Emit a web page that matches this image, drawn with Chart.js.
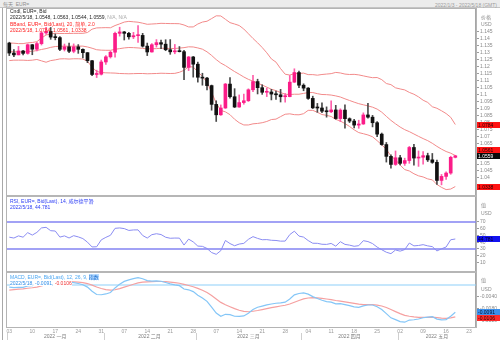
<!DOCTYPE html>
<html>
<head>
<meta charset="utf-8">
<script src="https://cdn.jsdelivr.net/npm/chart.js@4.4.1/dist/chart.umd.min.js"></script>
<style>
  html, body { margin: 0; padding: 0; background: #fff; }
  #wrap { position: relative; width: 500px; height: 340px; overflow: hidden;
          font-family: "Liberation Sans", "Noto Sans CJK SC", sans-serif; }
  #topbar { position: absolute; left: 0; top: 0; width: 500px; height: 7px;
            background: #ececec; border-bottom: 1px solid #c4c4c4; }
  .t { position: absolute; white-space: nowrap; font-size: 5px; line-height: 6px; }
  .vline { position: absolute; top: 8px; width: 1px; height: 332px; background: #a8a8a8; }
  canvas { position: absolute; left: 0; top: 0; }
</style>
</head>
<body>
<div id="wrap">
  <div id="topbar"></div>
  <div class="t" style="left:3px;top:1px;color:#8c8c8c">每天&nbsp;&nbsp;EUR=</div>
  <div class="t" id="period" style="right:3px;top:2px;color:#9c9c9c"></div>
  <div class="vline" style="left:2px"></div>
  <canvas id="chart" width="500" height="340"></canvas>

  <div class="t" id="cndlHead" style="left:10px;top:8px;color:#222">Cndl, EUR=, Bid</div>
  <div class="t" id="cndlVal" style="left:10px;top:14px;color:#222"></div>
  <div class="t" id="bbHead" style="left:10px;top:21px;color:#f22">BBand, EUR=, Bid(Last), 20, 简单, 2.0</div>
  <div class="t" id="bbVal" style="left:10px;top:27px;color:#f22"></div>

  <div class="t" id="rsiHead" style="left:10px;top:198px;color:#2b3cf5">RSI, EUR=, Bid(Last), 14, 威尔德平滑</div>
  <div class="t" id="rsiVal" style="left:10px;top:204px;color:#2b3cf5"></div>

  <div class="t" style="left:10px;top:274px;color:#4aa6f2;background:#fff">MACD, EUR=, Bid(Last), 12, 26, 9, <span style="background:#b9dcff;color:#1a6fd0">指数</span></div>
  <div class="t" id="macdVal" style="left:10px;top:280px;background:#fff"></div>

  <div class="t" style="left:481px;top:14px;color:#8c8c8c">价格</div>
  <div class="t" style="left:481px;top:21px;color:#8c8c8c">USD</div>
  <div class="t" style="left:481px;top:202px;color:#8c8c8c">值</div>
  <div class="t" style="left:481px;top:210px;color:#8c8c8c">USD</div>
  <div class="t" style="left:481px;top:277px;color:#8c8c8c">值</div>
  <div class="t" style="left:481px;top:286px;color:#8c8c8c">USD</div>
</div>

<script>
// Trading sessions per month (2022), including the blank sessions after the last bar
const janDays = [3,4,5,6,7,10,11,12,13,14,17,18,19,20,21,24,25,26,27,28,31];
const febDays = [1,2,3,4,7,8,9,10,11,14,15,16,17,18,21,22,23,24,25,28];
const marDays = [1,2,3,4,7,8,9,10,11,14,15,16,17,18,21,22,23,24,25,28,29,30,31];
const aprDays = [1,4,5,6,7,8,11,12,13,14,15,18,19,20,21,22,25,26,27,28,29];
const mayDays = [2,3,4,5,6,9,10,11,12,13,16,17,18,19,20,23,24];
const monthNames = ['2022 一月', '2022 二月', '2022 三月', '2022 四月', '2022 五月'];

// EUR= daily bid candles
const openPx = [1.1370,1.1298,1.1285,1.1313,1.1296,1.1358,1.1326,1.1366,1.1443,1.1454,
  1.1413,1.1409,1.1325,1.1343,1.1311,1.1343,1.1325,1.1301,1.1243,1.1144,
  1.1146,1.1234,1.1271,1.1304,1.1440,1.1450,1.1440,1.1415,1.1423,1.1425,
  1.1348,1.1306,1.1358,1.1373,1.1362,1.1322,1.1307,1.1309,1.1308,1.1195,
  1.1270,1.1218,1.1124,1.1118,1.1064,1.0929,1.0854,1.0903,1.1075,1.0984,
  1.0910,1.0942,1.0955,1.1034,1.1093,1.1049,1.1016,1.1018,1.1003,1.0998,
  1.0984,1.0985,1.1089,1.1158,1.1067,1.1046,1.0972,1.0904,1.0903,1.0880,
  1.0876,1.0889,1.0827,1.0888,1.0826,1.0809,1.0780,1.0788,1.0853,1.0837,
  1.0797,1.0715,1.0640,1.0555,1.0497,1.0545,1.0505,1.0525,1.0619,1.0543,
  1.0549,1.0560,1.0530,1.0512,1.0382,1.0411,1.0435,1.0548];
const highPx = [1.1376,1.1323,1.1346,1.1318,1.1364,1.1360,1.1375,1.1452,1.1483,1.1482,
  1.1436,1.1416,1.1363,1.1370,1.1364,1.1359,1.1329,1.1302,1.1245,1.1175,
  1.1248,1.1280,1.1313,1.1449,1.1484,1.1454,1.1448,1.1447,1.1495,1.1440,
  1.1370,1.1367,1.1395,1.1391,1.1394,1.1395,1.1360,1.1345,1.1317,1.1274,
  1.1274,1.1233,1.1153,1.1124,1.1068,1.0955,1.0925,1.1080,1.1121,1.1042,
  1.0997,1.1003,1.1041,1.1138,1.1110,1.1070,1.1046,1.1037,1.1025,1.1037,
  1.1007,1.1137,1.1185,1.1169,1.1077,1.1050,1.0988,1.0936,1.0940,1.0911,
  1.0954,1.0922,1.0897,1.0925,1.0832,1.0822,1.0815,1.0868,1.0936,1.0850,
  1.0805,1.0723,1.0655,1.0566,1.0594,1.0562,1.0542,1.0627,1.0641,1.0594,
  1.0590,1.0578,1.0576,1.0528,1.0425,1.0444,1.0556,1.0563];
const lowPx = [1.1280,1.1272,1.1285,1.1285,1.1290,1.1286,1.1313,1.1356,1.1433,1.1397,
  1.1393,1.1316,1.1313,1.1301,1.1300,1.1296,1.1263,1.1229,1.1136,1.1122,
  1.1140,1.1217,1.1262,1.1268,1.1420,1.1392,1.1398,1.1402,1.1374,1.1341,
  1.1280,1.1305,1.1341,1.1329,1.1315,1.1289,1.1293,1.1306,1.1106,1.1172,
  1.1125,1.1089,1.1067,1.1033,1.0887,1.0806,1.0850,1.0900,1.0974,1.0906,
  1.0908,1.0930,1.0950,1.1020,1.1004,1.1001,1.0985,1.0961,1.0964,1.0946,
  1.0945,1.0983,1.1086,1.1050,1.1027,1.0965,1.0899,1.0872,1.0869,1.0837,
  1.0869,1.0822,1.0805,1.0758,1.0798,1.0760,1.0757,1.0785,1.0830,1.0767,
  1.0697,1.0635,1.0514,1.0470,1.0490,1.0493,1.0490,1.0505,1.0492,1.0483,
  1.0499,1.0518,1.0505,1.0354,1.0350,1.0389,1.0426,1.0544];
const closePx = [1.1298,1.1285,1.1313,1.1296,1.1358,1.1326,1.1366,1.1443,1.1454,1.1413,
  1.1409,1.1325,1.1343,1.1311,1.1343,1.1325,1.1301,1.1243,1.1144,1.1146,
  1.1234,1.1271,1.1304,1.1440,1.1450,1.1440,1.1415,1.1423,1.1425,1.1348,
  1.1306,1.1358,1.1373,1.1362,1.1322,1.1307,1.1309,1.1308,1.1195,1.1270,
  1.1218,1.1124,1.1118,1.1064,1.0929,1.0854,1.0903,1.1075,1.0984,1.0910,
  1.0942,1.0955,1.1034,1.1093,1.1049,1.1016,1.1018,1.1003,1.0998,1.0984,
  1.0985,1.1089,1.1158,1.1067,1.1046,1.0972,1.0904,1.0903,1.0880,1.0876,
  1.0889,1.0827,1.0888,1.0826,1.0809,1.0780,1.0788,1.0853,1.0837,1.0797,
  1.0715,1.0640,1.0555,1.0497,1.0545,1.0505,1.0525,1.0619,1.0543,1.0549,
  1.0560,1.0530,1.0512,1.0382,1.0411,1.0435,1.0548,1.0559];

// Bollinger band (20, 2.0)
const bbUpper = [1.1370,1.1369,1.1366,1.1366,1.1372,1.1374,1.1380,1.1406,1.1428,1.1434,
  1.1441,1.1439,1.1439,1.1439,1.1440,1.1440,1.1440,1.1446,1.1470,1.1479,
  1.1480,1.1481,1.1480,1.1496,1.1508,1.1521,1.1526,1.1523,1.1520,1.1513,
  1.1505,1.1507,1.1509,1.1512,1.1511,1.1510,1.1510,1.1509,1.1500,1.1486,
  1.1486,1.1507,1.1521,1.1527,1.1546,1.1566,1.1565,1.1541,1.1517,1.1507,
  1.1496,1.1471,1.1437,1.1403,1.1372,1.1338,1.1300,1.1256,1.1233,1.1186,
  1.1146,1.1140,1.1150,1.1151,1.1154,1.1143,1.1143,1.1139,1.1144,1.1147,
  1.1150,1.1159,1.1155,1.1147,1.1144,1.1145,1.1141,1.1134,1.1127,1.1121,
  1.1122,1.1107,1.1079,1.1071,1.1048,1.1040,1.1033,1.1015,1.1002,1.0983,
  1.0959,1.0943,1.0912,1.0901,1.0883,1.0863,1.0836,1.0784];
const bbMiddle = [1.1307,1.1308,1.1306,1.1307,1.1309,1.1311,1.1316,1.1324,1.1330,1.1339,
  1.1345,1.1347,1.1348,1.1347,1.1348,1.1348,1.1348,1.1342,1.1333,1.1322,
  1.1319,1.1318,1.1318,1.1325,1.1330,1.1335,1.1338,1.1337,1.1335,1.1332,
  1.1327,1.1329,1.1330,1.1333,1.1332,1.1331,1.1331,1.1334,1.1337,1.1343,
  1.1342,1.1335,1.1326,1.1307,1.1281,1.1251,1.1226,1.1208,1.1186,1.1165,
  1.1146,1.1126,1.1109,1.1096,1.1082,1.1068,1.1053,1.1038,1.1028,1.1014,
  1.1002,1.1000,1.1002,1.1002,1.1008,1.1014,1.1014,1.1006,1.1000,1.0999,
  1.0996,1.0990,1.0982,1.0969,1.0957,1.0945,1.0934,1.0926,1.0918,1.0909,
  1.0895,1.0873,1.0843,1.0814,1.0789,1.0766,1.0747,1.0733,1.0716,1.0699,
  1.0683,1.0668,1.0649,1.0627,1.0607,1.0590,1.0578,1.0561];
const bbLower = [1.1244,1.1247,1.1247,1.1247,1.1245,1.1247,1.1252,1.1242,1.1232,1.1244,
  1.1249,1.1256,1.1257,1.1255,1.1257,1.1257,1.1255,1.1239,1.1197,1.1166,
  1.1158,1.1156,1.1155,1.1154,1.1151,1.1150,1.1149,1.1150,1.1151,1.1151,
  1.1149,1.1150,1.1151,1.1153,1.1152,1.1151,1.1152,1.1160,1.1174,1.1200,
  1.1198,1.1163,1.1130,1.1087,1.1016,1.0937,1.0886,1.0875,1.0855,1.0822,
  1.0797,1.0781,1.0781,1.0789,1.0792,1.0797,1.0806,1.0820,1.0823,1.0841,
  1.0858,1.0861,1.0855,1.0854,1.0862,1.0886,1.0886,1.0872,1.0856,1.0850,
  1.0842,1.0821,1.0809,1.0791,1.0770,1.0746,1.0726,1.0718,1.0709,1.0696,
  1.0668,1.0638,1.0606,1.0558,1.0530,1.0492,1.0460,1.0450,1.0430,1.0415,
  1.0407,1.0393,1.0386,1.0353,1.0332,1.0316,1.0320,1.0338];

// RSI (14, Wilder smoothing)
const rsi14 = [47.5,46.2,49.4,47.5,54.2,50.6,54.6,61.2,62.1,57.1,
  56.6,47.6,49.4,46.3,49.7,47.9,45.4,40.1,33.0,33.3,
  43.5,47.2,50.3,60.6,61.2,60.2,57.5,58.2,58.3,50.0,
  46.2,51.2,52.6,51.4,47.4,45.9,46.2,46.1,35.8,44.6,
  40.5,34.3,33.9,30.8,24.7,22.1,27.5,42.6,38.0,34.8,
  37.3,38.3,44.3,48.3,45.7,43.7,43.9,42.9,42.6,41.6,
  41.7,51.3,56.4,49.1,47.6,42.5,38.5,38.4,37.0,36.8,
  38.2,34.2,40.8,36.8,35.7,34.0,34.9,42.3,41.0,38.0,
  32.8,28.9,25.2,23.1,28.5,26.8,29.1,38.8,34.6,35.2,
  36.4,34.6,33.5,27.1,30.3,32.9,43.7,44.781];

// MACD (12, 26, 9) and its signal line
const macdLine = [-0.00069,-0.00086,-0.00076,-0.00080,-0.00034,-0.00022,0.00019,0.00112,0.00193,0.00221,
  0.00238,0.00181,0.00149,0.00096,0.00080,0.00051,0.00009,-0.00070,-0.00210,-0.00316,
  -0.00325,-0.00299,-0.00249,-0.00098,0.00029,0.00120,0.00170,0.00214,0.00247,0.00209,
  0.00144,0.00132,0.00134,0.00124,0.00084,0.00039,0.00005,-0.00022,-0.00134,-0.00160,
  -0.00220,-0.00339,-0.00433,-0.00546,-0.00735,-0.00935,-0.01042,-0.00976,-0.00987,-0.01042,
  -0.01049,-0.01031,-0.00943,-0.00816,-0.00742,-0.00702,-0.00661,-0.00634,-0.00609,-0.00594,
  -0.00574,-0.00469,-0.00327,-0.00284,-0.00264,-0.00305,-0.00387,-0.00448,-0.00509,-0.00554,
  -0.00573,-0.00630,-0.00620,-0.00654,-0.00686,-0.00727,-0.00745,-0.00698,-0.00666,-0.00666,
  -0.00723,-0.00820,-0.00954,-0.01094,-0.01154,-0.01219,-0.01240,-0.01168,-0.01158,-0.01133,
  -0.01091,-0.01070,-0.01056,-0.01136,-0.01163,-0.01152,-0.01040,-0.0091];
const macdSignal = [-0.00174,-0.00156,-0.00140,-0.00128,-0.00109,-0.00092,-0.00070,-0.00033,0.00012,0.00054,
  0.00091,0.00109,0.00117,0.00113,0.00106,0.00095,0.00078,0.00048,-0.00003,-0.00066,
  -0.00118,-0.00154,-0.00173,-0.00158,-0.00121,-0.00073,-0.00024,0.00024,0.00068,0.00097,
  0.00106,0.00111,0.00116,0.00117,0.00111,0.00096,0.00078,0.00058,0.00020,-0.00016,
  -0.00057,-0.00113,-0.00177,-0.00251,-0.00348,-0.00465,-0.00580,-0.00660,-0.00725,-0.00789,
  -0.00841,-0.00879,-0.00892,-0.00876,-0.00850,-0.00820,-0.00788,-0.00757,-0.00728,-0.00701,
  -0.00676,-0.00634,-0.00573,-0.00515,-0.00465,-0.00433,-0.00424,-0.00428,-0.00445,-0.00466,
  -0.00488,-0.00516,-0.00537,-0.00560,-0.00585,-0.00614,-0.00640,-0.00652,-0.00655,-0.00657,
  -0.00670,-0.00700,-0.00751,-0.00819,-0.00886,-0.00953,-0.01010,-0.01042,-0.01065,-0.01079,
  -0.01081,-0.01079,-0.01074,-0.01087,-0.01102,-0.01112,-0.01098,-0.0106];

// Axis ticks and reference levels
const priceTicks = [1.04,1.045,1.05,1.055,1.06,1.065,1.07,1.075,1.08,1.085,1.09,1.095,
  1.1,1.105,1.11,1.115,1.12,1.125,1.13,1.135,1.14,1.145];
const rsiTicks = [10,20,30,40,50,60,70];
const macdTicks = [-0.004,-0.008,-0.012];
const rsiBands = [70, 30];
const macdZero = [0];

// ---------------------------------------------------------------------------
const monthSessions = [janDays, febDays, marDays, aprDays, mayDays];
const sessions = monthSessions.flatMap((days, mi) => days.map(d => `2022/${mi + 1}/${d}`));
const lastIdx = closePx.length - 1;
const lastDate = sessions[lastIdx];

const FONT = '"Liberation Sans", "Noto Sans CJK SC", sans-serif';
const UP = '#fb1c88', DOWN = '#111111';
const isUp = closePx.map((c, i) => c >= openPx[i]);

const wicks = closePx.map((c, i) => [lowPx[i], highPx[i]]);
const bodies = closePx.map((c, i) => [openPx[i], c]);

// Header texts
document.getElementById('period').textContent = `${sessions[0]} - ${lastDate} (GMT)`;
document.getElementById('cndlVal').innerHTML =
  `${lastDate}, ${openPx[lastIdx].toFixed(4)}, ${highPx[lastIdx].toFixed(4)}, ${lowPx[lastIdx].toFixed(4)}, ${closePx[lastIdx].toFixed(4)}, <span style="color:#aaa">N/A, N/A</span>`;
document.getElementById('bbVal').textContent =
  `${lastDate}, ${bbUpper[lastIdx].toFixed(4)}, ${bbMiddle[lastIdx].toFixed(4)}, ${bbLower[lastIdx].toFixed(4)}`;
document.getElementById('rsiVal').textContent = `${lastDate}, ${rsi14[lastIdx]}`;
document.getElementById('macdVal').innerHTML =
  `<span style="color:#2f8ee8">${lastDate}, ${macdLine[lastIdx].toFixed(4)},</span> <span style="color:#f03030">${macdSignal[lastIdx].toFixed(4)}</span>`;

// Last-value tags on the right axes (listed by priority)
const valueTags = [
  { axis: 'yPrice', value: closePx[lastIdx], bg: '#0a0a0a', fg: '#ffffff' , digits: 4 },
  { axis: 'yPrice', value: bbUpper[lastIdx], bg: '#ff1212', fg: '#2a0000', digits: 4 },
  { axis: 'yPrice', value: bbMiddle[lastIdx], bg: '#ff1212', fg: '#2a0000', digits: 4 },
  { axis: 'yPrice', value: bbLower[lastIdx], bg: '#ff1212', fg: '#2a0000', digits: 4 },
  { axis: 'yRsi', value: rsi14[lastIdx], bg: '#1212f0', fg: '#000022', digits: 3 },
  { axis: 'yMacd', value: macdLine[lastIdx], bg: '#3b8fe9', fg: '#001030', digits: 4 },
  { axis: 'yMacd', value: macdSignal[lastIdx], bg: '#ff2a2a', fg: '#2a0000', digits: 4 }
];

const paneDecor = {
  id: 'paneDecor',
  beforeDatasetsDraw(chart) {
    const { ctx, chartArea: a, scales: s } = chart;
    ctx.save();
    const hline = (y, color, w) => {
      ctx.strokeStyle = color; ctx.lineWidth = w;
      ctx.beginPath(); ctx.moveTo(a.left, y); ctx.lineTo(a.right, y); ctx.stroke();
    };
    rsiBands.forEach(v => hline(s.yRsi.getPixelForValue(v), '#8383f2', 1.4));
    macdZero.forEach(v => hline(s.yMacd.getPixelForValue(v), '#8ecff9', 1.2));
    ctx.restore();
  },
  afterDraw(chart) {
    const { ctx, chartArea: a, scales: s } = chart;
    ctx.save();
    // pane frame and separators
    ctx.strokeStyle = '#b4b4b4'; ctx.lineWidth = 1;
    ctx.strokeRect(a.left - 0.5, a.top - 0.5, a.right - a.left + 1, a.bottom - a.top + 1);
    ctx.fillStyle = '#b6b6b6';
    [s.yRsi.top, s.yMacd.top].forEach(y => ctx.fillRect(a.left - 1, Math.round(y) - 1, a.right - a.left + 1, 2));

    // month row under the day labels
    const x = s.x;
    ctx.font = `5px ${FONT}`;
    ctx.textAlign = 'center'; ctx.textBaseline = 'middle';
    let start = 0;
    ctx.strokeStyle = '#cfcfcf'; ctx.lineWidth = 1;
    monthSessions.forEach((days, mi) => {
      const first = start, last = start + days.length - 1;
      start += days.length;
      const cx = (x.getPixelForValue(first) + x.getPixelForValue(last)) / 2;
      ctx.fillStyle = '#7c7c7c';
      ctx.fillText(monthNames[mi], cx, 337);
      const bx = first === 0 ? a.left : (x.getPixelForValue(first - 1) + x.getPixelForValue(first)) / 2;
      ctx.beginPath(); ctx.moveTo(Math.round(bx) + 0.5, 333); ctx.lineTo(Math.round(bx) + 0.5, 340); ctx.stroke();
    });

    // value tags
    const boxH = 6;
    const placed = {};
    ctx.textAlign = 'left';
    valueTags.forEach(t => {
      let y = s[t.axis].getPixelForValue(t.value);
      const list = placed[t.axis] || (placed[t.axis] = []);
      list.forEach(p => {
        if (Math.abs(y - p.y) < boxH) y = t.value > p.value ? p.y - boxH : p.y + boxH;
      });
      list.push({ y, value: t.value });
      const top = Math.round(y - boxH / 2);
      ctx.fillStyle = t.bg;
      ctx.fillRect(a.right + 1, top, chart.width - a.right - 1, boxH);
      ctx.fillStyle = t.fg;
      ctx.fillText(t.value.toFixed(t.digits), a.right + 2, top + boxH / 2 + 0.5);
    });
    ctx.restore();
  }
};

const yCommon = (ticksList, fmt) => ({
  type: 'linear',
  position: 'right',
  stack: 'panes',
  afterFit(scale) { scale.width = 24; },
  afterBuildTicks(scale) { scale.ticks = ticksList.map(v => ({ value: v })); },
  grid: { drawOnChartArea: false, drawTicks: true, tickLength: 3, color: '#9c9c9c' },
  border: { display: true, color: '#a6a6a6', width: 2 },
  ticks: { autoSkip: false, padding: 1, color: '#8a8a8a', font: { size: 5, family: FONT }, callback: fmt }
});

new Chart(document.getElementById('chart'), {
  type: 'bar',
  data: {
    labels: sessions,
    datasets: [
      { label: '实体', data: bodies, yAxisID: 'yPrice', grouped: false, barThickness: 3, minBarLength: 1,
        backgroundColor: isUp.map(u => u ? UP : DOWN), order: 0 },
      { label: '影线', data: wicks, yAxisID: 'yPrice', grouped: false, barThickness: 1,
        backgroundColor: isUp.map(u => u ? '#ff5fab' : '#4a4a4a'), order: 1 },
      { type: 'line', label: 'BB 上轨', data: bbUpper, yAxisID: 'yPrice', borderColor: '#f28a8a', borderWidth: 1, pointRadius: 0, order: 2 },
      { type: 'line', label: 'BB 中轨', data: bbMiddle, yAxisID: 'yPrice', borderColor: '#f28a8a', borderWidth: 1, pointRadius: 0, order: 2 },
      { type: 'line', label: 'BB 下轨', data: bbLower, yAxisID: 'yPrice', borderColor: '#f28a8a', borderWidth: 1, pointRadius: 0, order: 2 },
      { type: 'line', label: 'RSI', data: rsi14, yAxisID: 'yRsi', borderColor: '#8a8cf2', borderWidth: 1, pointRadius: 0, order: 2 },
      { type: 'line', label: 'MACD', data: macdLine, yAxisID: 'yMacd', borderColor: '#84c6f7', borderWidth: 1.2, pointRadius: 0, order: 2 },
      { type: 'line', label: 'Signal', data: macdSignal, yAxisID: 'yMacd', borderColor: '#f5a0a0', borderWidth: 1.2, pointRadius: 0, order: 3 }
    ]
  },
  options: {
    responsive: false,
    animation: false,
    devicePixelRatio: 1,
    events: [],
    layout: { padding: { left: 7, top: 9, right: 0, bottom: 0 } },
    plugins: { legend: { display: false }, tooltip: { enabled: false } },
    scales: {
      x: {
        type: 'category',
        offset: true,
        afterFit(scale) { scale.height = 13; },
        grid: { display: false, drawTicks: false },
        border: { display: true, color: '#a6a6a6' },
        ticks: {
          autoSkip: false, maxRotation: 0, minRotation: 0, padding: 2,
          color: '#9a9a9a', font: { size: 5, family: FONT },
          callback(value, index) {
            const [y, m, d] = sessions[index].split('/').map(Number);
            return new Date(y, m - 1, d).getDay() === 1 ? String(d).padStart(2, '0') : '';
          }
        }
      },
      yPrice: Object.assign(yCommon(priceTicks, v => String(+v.toFixed(3))),
        { min: 1.0270, max: 1.1615, stackWeight: 187 }),
      yRsi: Object.assign(yCommon(rsiTicks, v => String(v)),
        { min: -4.1, max: 108.5, stackWeight: 76 }),
      yMacd: Object.assign(yCommon(macdTicks, v => v.toFixed(4)),
        { min: -0.014, max: 0.00433, stackWeight: 55 })
    }
  },
  plugins: [paneDecor]
});
</script>
</body>
</html>
